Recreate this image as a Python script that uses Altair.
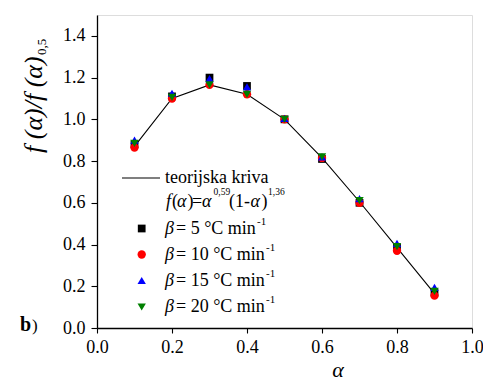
import altair as alt
import pandas as pd

alpha = [0.1, 0.2, 0.3, 0.4, 0.5, 0.6, 0.7, 0.8, 0.9]
curve = [0.87, 1.10, 1.165, 1.12, 1.00, 0.815, 0.605, 0.385, 0.165]
b5 = [0.88, 1.11, 1.20, 1.16, 1.00, 0.81, 0.60, 0.385, 0.17]
b10 = [0.865, 1.10, 1.165, 1.12, 1.00, 0.815, 0.60, 0.37, 0.155]
b15 = [0.90, 1.125, 1.195, 1.155, 1.005, 0.82, 0.62, 0.405, 0.195]
b20 = [0.885, 1.105, 1.165, 1.12, 1.00, 0.82, 0.61, 0.39, 0.175]
x_ticks = [0.0, 0.1, 0.2, 0.3, 0.4, 0.5, 0.6, 0.7, 0.8, 0.9, 1.0]
y_ticks = [0.0, 0.1, 0.2, 0.3, 0.4, 0.5, 0.6, 0.7, 0.8, 0.9, 1.0, 1.1, 1.2, 1.3, 1.4, 1.5]

FONT = "Liberation Serif"
X0, Y0 = 97, 15  # plot origin on page
W, H = 375, 313

one = pd.DataFrame({"a": [0]})
label_expr = "round(datum.value*10) % 2 == 0 ? format(datum.value, '.1f') : ''"

xs = alt.Scale(domain=[0, 1.0], nice=False, zero=False)
ys = alt.Scale(domain=[0, 1.5], nice=False, zero=False)
common = dict(labelExpr=label_expr, title=None, grid=False, labelFont=FONT,
              labelFontSize=18, labelColor="black", domainColor="black",
              tickColor="black", domainWidth=1.3, tickWidth=1.1, labelFlush=False,
              labelOverlap=False, labelBound=False)
xaxis = alt.Axis(values=x_ticks, tickSize=5, labelPadding=5, **common)
yaxis = alt.Axis(values=y_ticks, tickSize=6, labelPadding=6, **common)

curve_df = pd.DataFrame({"alpha": alpha, "v": curve})
line = alt.Chart(curve_df).mark_line(color="black", strokeWidth=1.1).encode(
    x=alt.X("alpha:Q", scale=xs, axis=xaxis),
    y=alt.Y("v:Q", scale=ys, axis=yaxis),
)

series = [
    (b5, "square", "#000000", 60),
    (b10, "circle", "#FF0000", 70),
    (b15, "triangle-up", "#0000FF", 70),
    (b20, "triangle-down", "#008000", 70),
]
layers = [line]
for vals, shape, color, size in series:
    df = pd.DataFrame({"alpha": alpha, "v": vals})
    layers.append(
        alt.Chart(df).mark_point(shape=shape, filled=True, color=color, size=size, opacity=1).encode(
            x=alt.X("alpha:Q", scale=xs), y=alt.Y("v:Q", scale=ys)
        )
    )


def txt(s, x, y, size=18, style="normal", weight="normal", angle=0, align="left"):
    return alt.Chart(one).mark_text(
        text=s, font=FONT, fontSize=size, fontStyle=style, fontWeight=weight,
        align=align, baseline="alphabetic", angle=angle, color="black"
    ).encode(x=alt.value(x - X0), y=alt.value(y - Y0))


def sym(shape, color, x, y, size=70):
    return alt.Chart(one).mark_point(shape=shape, filled=True, color=color, size=size, opacity=1).encode(
        x=alt.value(x - X0), y=alt.value(y - Y0)
    )


# legend
layers.append(alt.Chart(one).mark_rule(color="black", strokeWidth=1.1).encode(
    x=alt.value(122 - X0), x2=alt.value(160 - X0), y=alt.value(178 - Y0)))
layers.append(txt("teorijska kriva", 165, 183))
# formula f(α)=α^0,59(1-α)^1,36
layers += [
    txt("f", 166, 207, style="italic"),
    txt("(", 172, 207),
    txt("α", 177, 207, style="italic"),
    txt(")", 187.5, 207),
    txt("=", 192, 207),
    txt("α", 202, 207, style="italic"),
    txt("0,59", 213.5, 194.5, size=9.5),
    txt("(1-", 229, 207),
    txt("α", 250.5, 207, style="italic"),
    txt(")", 261.5, 207),
    txt("1,36", 268, 194.5, size=9.5),
]
rows = [("5", "square", "#000000", 228.5, 234, 60, 256),
        ("10", "circle", "#FF0000", 254.5, 260, 70, 265),
        ("15", "triangle-up", "#0000FF", 280.5, 286, 70, 265),
        ("20", "triangle-down", "#008000", 307, 312, 70, 265)]
for num, shape, color, sy, base, size, supx in rows:
    layers.append(sym(shape, color, 141.7, sy, size))
    layers.append(txt("β", 165, base, style="italic"))
    layers.append(txt("= " + num + " °C min", 176, base))
    layers.append(txt("-1", supx + 1, base - 9.5, size=11))

# axis titles
layers.append(txt("f (α)/f (α)", 42, 153, size=26, style="italic", angle=270))
layers.append(txt("0,5", 45.5, 55, size=13, angle=270))
layers.append(txt("α", 338, 377, size=22, style="italic", align="center"))
layers.append(txt("b", 20, 331, size=20, weight="bold"))
layers.append(txt(")", 32, 331, size=17))

chart = alt.layer(*layers).properties(
    width=W, height=H,
    padding={"left": X0 - 8, "top": Y0 - 8, "right": 475 - (X0 - 8) - W, "bottom": 55},
    autosize=alt.AutoSizeParams(type="none"),
).configure_view(stroke=None).configure(background="white")

chart.save("out.html", embed_options={"renderer": "svg", "actions": False})
